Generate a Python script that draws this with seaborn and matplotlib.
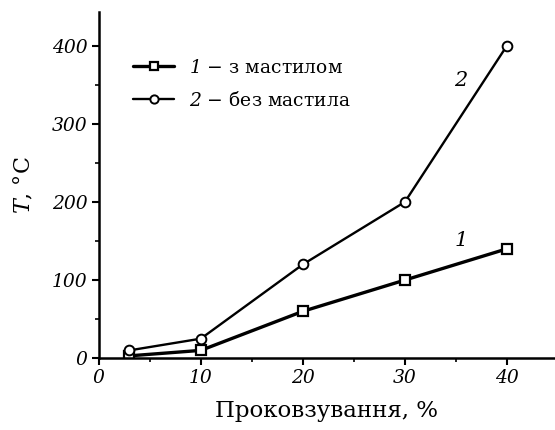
import matplotlib
matplotlib.use("Agg")
import matplotlib.pyplot as plt
import seaborn as sns
from matplotlib.ticker import MultipleLocator

# Slip (%) and temperature (°C) for the two friction conditions
slip = [3, 10, 20, 30, 40]
temp_lubricated = [3, 10, 60, 100, 140]
temp_dry = [10, 25, 120, 200, 400]
labels = [r"$1$ − з мастилом", r"$2$ − без мастила"]

sns.set_theme(style="ticks")
plt.rcParams["font.family"] = ["DejaVu Serif"]
plt.rcParams["text.color"] = "black"
plt.rcParams["axes.labelcolor"] = "black"
# math snippets (curve numbers, T) are set in italic serif
plt.rcParams["mathtext.fontset"] = "custom"
plt.rcParams["mathtext.rm"] = "DejaVu Serif:italic"
plt.rcParams["mathtext.it"] = "DejaVu Serif:italic"

fig = plt.figure(figsize=(5.55, 4.30), dpi=100)
ax = fig.add_axes([0.178, 0.167, 0.82, 0.805])

sns.lineplot(x=slip, y=temp_lubricated, ax=ax, color="black", lw=2.4,
             marker="s", markersize=6.5, markerfacecolor="white",
             markeredgecolor="black", markeredgewidth=1.6, label=labels[0])
sns.lineplot(x=slip, y=temp_dry, ax=ax, color="black", lw=1.7,
             marker="o", markersize=7, markerfacecolor="white",
             markeredgecolor="black", markeredgewidth=1.4, label=labels[1])

ax.set_xlim(0, 44.6)
ax.set_ylim(0, 443)
ax.xaxis.set_major_locator(MultipleLocator(10))
ax.xaxis.set_minor_locator(MultipleLocator(5))
ax.yaxis.set_major_locator(MultipleLocator(100))
ax.yaxis.set_minor_locator(MultipleLocator(50))
ax.tick_params(which="major", direction="out", length=5, width=1.5,
               labelsize=13.5, colors="black", pad=3)
ax.tick_params(which="minor", direction="out", length=3, width=1.2,
               colors="black")
for lab in ax.get_xticklabels() + ax.get_yticklabels():
    lab.set_fontstyle("italic")

for side in ("top", "right"):
    ax.spines[side].set_visible(False)
for side in ("left", "bottom"):
    ax.spines[side].set_linewidth(1.8)
    ax.spines[side].set_color("black")

ax.set_xlabel("Проковзування, %", fontsize=16.5, labelpad=9)
ax.set_ylabel(r"$T$, °C", fontsize=16, labelpad=12)

ax.text(35.5, 356, "2", fontsize=15, style="italic", ha="center", va="center")
ax.text(35.5, 150, "1", fontsize=15, style="italic", ha="center", va="center")

leg = ax.legend(loc="upper left", bbox_to_anchor=(0.075, 0.865), frameon=False,
                fontsize=13.5, handlelength=2.2, handletextpad=0.8,
                labelspacing=0.75, borderpad=0, borderaxespad=0,
                markerscale=0.85)
for t in leg.get_texts():
    t.set_color("black")

fig.savefig("out.png", dpi=100)
